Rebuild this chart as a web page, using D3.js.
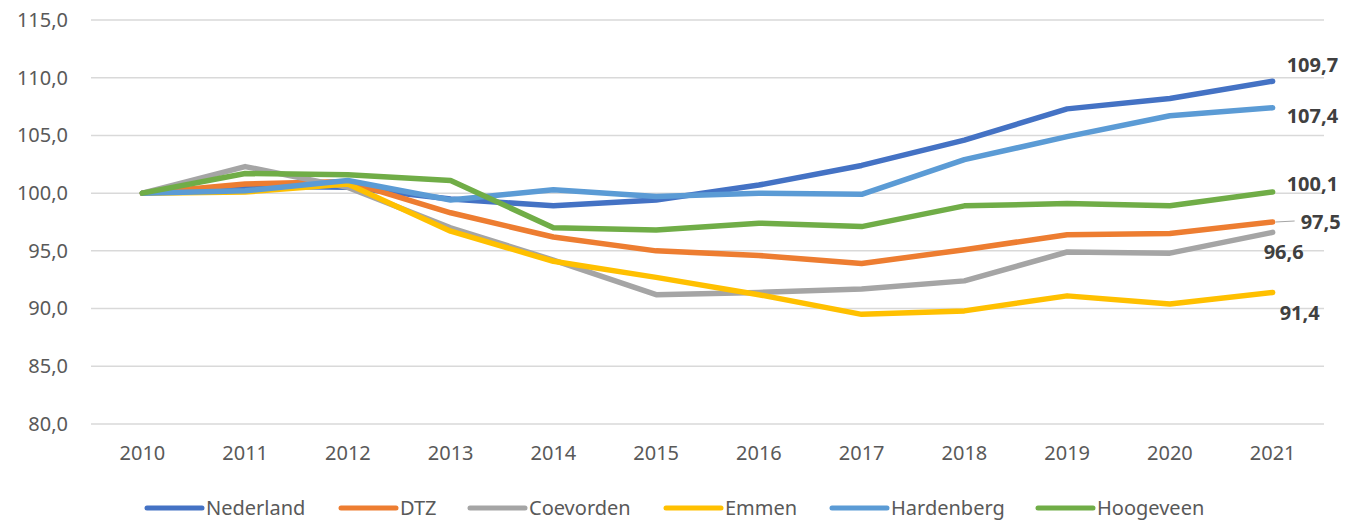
<!DOCTYPE html>
<html>
<head>
<meta charset="utf-8">
<script src="https://cdn.jsdelivr.net/npm/d3@7"></script>
<style>
  body { margin: 0; background: #fff; }
  text { font-family: "Noto Sans", sans-serif; }
</style>
</head>
<body>
<div id="chart"></div>
<script>
// Index numbers per area, 2010 = 100

const years = ['2010', '2011', '2012', '2013', '2014', '2015', '2016', '2017', '2018', '2019', '2020', '2021'];
const yTicks = [80, 85, 90, 95, 100, 105, 110, 115];

const seriesNames = ['Nederland', 'DTZ', 'Coevorden', 'Emmen', 'Hardenberg', 'Hoogeveen'];
const seriesColors = ['#4472C4', '#ED7D31', '#A5A5A5', '#FFC000', '#5B9BD5', '#70AD47'];

const nederland  = [100, 100.6, 100.5, 99.5, 98.9, 99.4, 100.7, 102.4, 104.6, 107.3, 108.2, 109.7];
const dtz        = [100, 100.8, 101.0, 98.3, 96.2, 95.0, 94.6, 93.9, 95.1, 96.4, 96.5, 97.5];
const coevorden  = [100, 102.3, 100.5, 97.0, 94.2, 91.2, 91.4, 91.7, 92.4, 94.9, 94.8, 96.6];
const emmen      = [100, 100.1, 100.8, 96.7, 94.1, 92.7, 91.2, 89.5, 89.8, 91.1, 90.4, 91.4];
const hardenberg = [100, 100.2, 101.1, 99.4, 100.3, 99.7, 100.0, 99.9, 102.9, 104.9, 106.7, 107.4];
const hoogeveen  = [100, 101.7, 101.6, 101.1, 97.0, 96.8, 97.4, 97.1, 98.9, 99.1, 98.9, 100.1];

const allValues = [nederland, dtz, coevorden, emmen, hardenberg, hoogeveen];

// where the end labels sit, relative to the last point
const labelOffsets = [[14, -16], [28, 0], [-9, 20], [7, 21], [14, 8], [14, -8]];

const W = 1348, H = 521;
const plotLeft = 91, plotRight = 1324, plotTop = 20, plotBottom = 424;

var svg = d3.select('#chart').append('svg')
    .attr('width', W)
    .attr('height', H);

var xScale = d3.scaleBand().domain(years).range([plotLeft, plotRight]);
var yScale = d3.scaleLinear().domain([80, 115]).range([plotBottom, plotTop]);
var xMid = function(y) { return xScale(y) + xScale.bandwidth() / 2; };

// Gridlines
svg.append('g')
    .selectAll('line')
    .data(yTicks)
    .enter()
    .append('line')
    .attr('x1', plotLeft)
    .attr('x2', plotRight)
    .attr('y1', function(d) { return yScale(d); })
    .attr('y2', function(d) { return yScale(d); })
    .attr('stroke', '#D9D9D9')
    .attr('stroke-width', 1.5);

// Y axis labels
var yAxis = svg.append('g')
    .attr('transform', 'translate(' + plotLeft + ',0)')
    .call(d3.axisLeft(yScale).tickValues(yTicks).tickSize(0).tickPadding(23)
        .tickFormat(function(d) { return d3.format('.1f')(d).replace('.', ','); }));
yAxis.select('.domain').remove();
yAxis.selectAll('text')
    .style('font-family', '"Noto Sans", sans-serif')
    .style('font-size', '20px')
    .attr('fill', '#595959');

// X axis labels
var xAxis = svg.append('g')
    .attr('transform', 'translate(0,' + plotBottom + ')')
    .call(d3.axisBottom(xScale).tickSize(0).tickPadding(22));
xAxis.select('.domain').remove();
xAxis.selectAll('text')
    .style('font-family', '"Noto Sans", sans-serif')
    .style('font-size', '20px')
    .attr('fill', '#595959');

// Lines
var line = d3.line()
    .x(function(d, i) { return xMid(years[i]); })
    .y(function(d) { return yScale(d); });

svg.append('g')
    .selectAll('path')
    .data(allValues)
    .enter()
    .append('path')
    .attr('d', function(d) { return line(d); })
    .attr('fill', 'none')
    .attr('stroke', function(d, i) { return seriesColors[i]; })
    .attr('stroke-width', 5.5)
    .attr('stroke-linejoin', 'round')
    .attr('stroke-linecap', 'round');

// End labels
var lastX = xMid(years[years.length - 1]);
var labels = svg.append('g');
allValues.forEach(function(vals, i) {
    var v = vals[vals.length - 1];
    var off = labelOffsets[i];
    labels.append('text')
        .attr('x', lastX + off[0])
        .attr('y', yScale(v) + off[1])
        .attr('dy', '0.35em')
        .style('font-size', '20px')
        .style('font-weight', 'bold')
        .attr('fill', '#404040')
        .text(d3.format('.1f')(v).replace('.', ','));
});

// leader line for the DTZ label
var dtzEnd = dtz[dtz.length - 1];
labels.append('line')
    .attr('x1', lastX + 3)
    .attr('x2', lastX + labelOffsets[1][0] - 6)
    .attr('y1', yScale(dtzEnd))
    .attr('y2', yScale(dtzEnd) - 1)
    .attr('stroke', '#A5A5A5')
    .attr('stroke-width', 1);

// Legend
var legendX = [147, 341, 470, 666, 832, 1038];
var legend = svg.append('g').attr('transform', 'translate(0,508)');
seriesNames.forEach(function(name, i) {
    legend.append('line')
        .attr('x1', legendX[i])
        .attr('x2', legendX[i] + 55)
        .attr('stroke', seriesColors[i])
        .attr('stroke-width', 5)
        .attr('stroke-linecap', 'round');
    legend.append('text')
        .attr('x', legendX[i] + 59)
        .attr('dy', '0.35em')
        .style('font-size', '20px')
        .attr('fill', '#595959')
        .text(name);
});
</script>
</body>
</html>
